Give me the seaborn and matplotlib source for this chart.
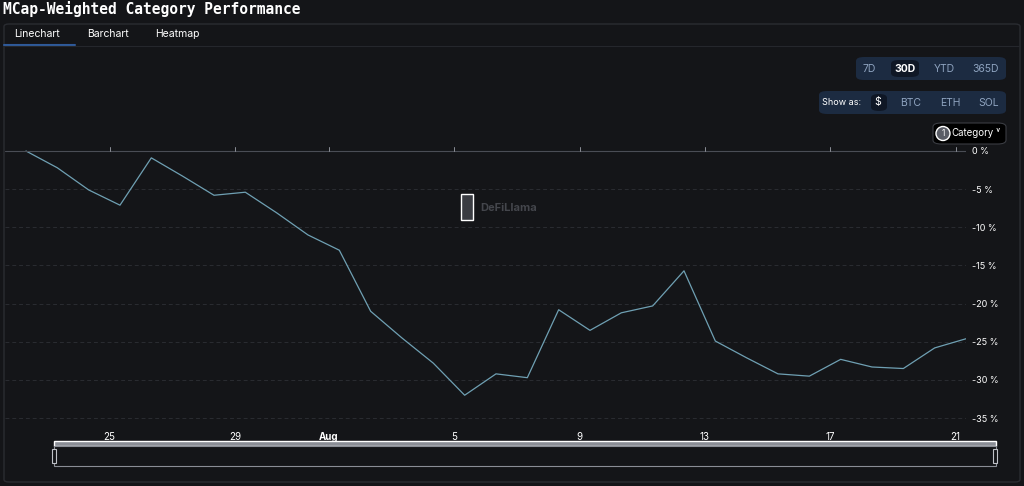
import matplotlib
matplotlib.use("Agg")
import matplotlib.pyplot as plt
import seaborn as sns
import pandas as pd
import numpy as np
from matplotlib.patches import FancyBboxPatch, Rectangle, Ellipse

dates = pd.date_range("2024-07-22 08:00", "2024-08-21 08:00", freq="D")
values = [0, -2.2, -5.1, -7.1, -0.9, -3.3, -5.8, -5.4, -8.1, -11, -13, -21, -24.5, -27.8, -32,
          -29.2, -29.7, -20.8, -23.5, -21.2, -20.3, -15.7, -24.9, -27.1, -29.2, -29.5, -27.3,
          -28.3, -28.5, -25.8, -24.6]
df = pd.DataFrame({"date": dates, "value": values})
yticks = [0, -5, -10, -15, -20, -25, -30, -35]
xtick_dates = pd.to_datetime(["2024-07-25", "2024-07-29", "2024-08-01", "2024-08-05", "2024-08-09",
                              "2024-08-13", "2024-08-17", "2024-08-21"])
xtick_labels = ["25", "29", "Aug", "5", "9", "13", "17", "21"]

BG = "#141518"
sns.set_theme(style="dark")
plt.rcParams['font.family'] = ['Inter', 'DejaVu Sans']
fig = plt.figure(figsize=(10.24, 4.86), dpi=100, facecolor=BG)

def fx(px): return px / 1024
def fy(py): return 1 - py / 486

fig.patches.append(FancyBboxPatch((fx(4), fy(482)), fx(1016), fy(24) - fy(482), boxstyle="round,pad=0,rounding_size=0.005",
                                  transform=fig.transFigure, facecolor=BG, edgecolor="#2a2c31", lw=1, zorder=-5))
fig.text(fx(3), fy(9), "MCap-Weighted Category Performance", color="white", fontsize=10.5, fontweight="bold",
         family=["DejaVu Sans Mono"], va="center")
for lab, x in [("Linechart", 37), ("Barchart", 108), ("Heatmap", 177)]:
    fig.text(fx(x), fy(34), lab, color="white", fontsize=7.5, ha="center", va="center")
fig.add_artist(plt.Line2D([fx(4), fx(75)], [fy(45), fy(45)], color="#2f5a9a", lw=1.5, transform=fig.transFigure))
fig.add_artist(plt.Line2D([fx(4), fx(1020)], [fy(46), fy(46)], color="#25272c", lw=0.8, transform=fig.transFigure))

def pill(x0, y0, x1, y1, fc, ec="none"):
    fig.patches.append(FancyBboxPatch((fx(x0), fy(y1)), fx(x1 - x0), fy(y0) - fy(y1),
                                      boxstyle="round,pad=0,rounding_size=0.008", transform=fig.transFigure,
                                      facecolor=fc, edgecolor=ec, lw=0.8))
pill(856, 57, 1006, 80, "#1c2b41")
pill(891, 60, 919, 77, "#0f1725")
for lab, x, c in [("7D", 869, "#8ea3bf"), ("30D", 905, "white"), ("YTD", 944, "#8ea3bf"), ("365D", 986, "#8ea3bf")]:
    fig.text(fx(x), fy(68.5), lab, color=c, fontsize=7.5, ha="center", va="center", fontweight="bold" if c == "white" else "normal")
pill(819, 91, 1006, 114, "#1c2b41")
pill(871, 94, 887, 111, "#0f1725")
fig.text(fx(842), fy(102.5), "Show as:", color="white", fontsize=6.5, ha="center", va="center")
for lab, x, c in [("$", 878, "white"), ("BTC", 911, "#8ea3bf"), ("ETH", 950, "#8ea3bf"), ("SOL", 989, "#8ea3bf")]:
    fig.text(fx(x), fy(102.5), lab, color=c, fontsize=7.5, ha="center", va="center")
pill(933, 123, 1006, 144, "#000000", "#3a3c42")
fig.patches.append(Ellipse((fx(943), fy(133.5)), fx(14), 14 / 486, transform=fig.transFigure, facecolor="#5a5d66"))
fig.text(fx(943), fy(133.5), "1", color="white", fontsize=6, ha="center", va="center")
fig.text(fx(973), fy(133.5), "Category", color="white", fontsize=7, ha="center", va="center")
fig.text(fx(998), fy(132), "˅", color="white", fontsize=7, ha="center", va="center")

ax = fig.add_axes([fx(5), fy(425), fx(961), fy(140) - fy(425)])
ax.set_zorder(5)
ax.set_facecolor(BG)
ax.patch.set_alpha(0)
sns.lineplot(data=df, x="date", y="value", ax=ax, color="#6fa0b3", lw=0.9)
day_px = 31.36
ax.set_xlim(dates[0] - pd.Timedelta(days=21 / day_px), dates[-1])
ax.set_ylim(-35.9, 1.44)
ax.yaxis.tick_right()
ax.set_yticks(yticks)
ax.set_yticklabels([f"{t} %" for t in yticks], color="white", fontsize=6.5)
ax.set_xticks(xtick_dates)
ax.set_xticklabels(xtick_labels, color="white", fontsize=7)
for lbl in ax.get_xticklabels():
    if lbl.get_text() == "Aug":
        lbl.set_fontweight("bold")
ax.tick_params(axis="y", length=0, pad=4)
ax.tick_params(axis="x", length=0, pad=5)
ax.grid(axis="y", color="#2a2c31", lw=0.7, ls=(0, (4, 3)))
ax.grid(axis="x", visible=False)
for s in ax.spines.values():
    s.set_visible(False)
ax.axhline(0, color="#4a4d55", lw=0.8)
for d in xtick_dates:
    ax.plot([d, d], [0, 0.5], color="#8a8d95", lw=0.7, clip_on=False)
ax.set_xlabel("")
ax.set_ylabel("")
ax.text(0.495, 0.76, "DeFiLlama", transform=ax.transAxes, color="#44464c", fontsize=8, fontweight="bold", ha="left", va="center")
ax.add_patch(Rectangle((0.474, 0.72), 0.013, 0.09, transform=ax.transAxes, facecolor="#3a3c42"))

fig.patches.append(Rectangle((fx(54), fy(446)), fx(942), fy(441) - fy(446), transform=fig.transFigure, facecolor="#8a8d95"))
fig.patches.append(Rectangle((fx(54), fy(466)), fx(942), fy(446) - fy(466), transform=fig.transFigure, facecolor=BG, edgecolor="#8a8d95", lw=0.8))
for x in [54, 995]:
    fig.patches.append(Rectangle((fx(x - 2), fy(463)), fx(4), fy(449) - fy(463), transform=fig.transFigure, facecolor=BG, edgecolor="#c0c2c8", lw=0.8))

fig.savefig("out.png", dpi=100, facecolor=BG)
